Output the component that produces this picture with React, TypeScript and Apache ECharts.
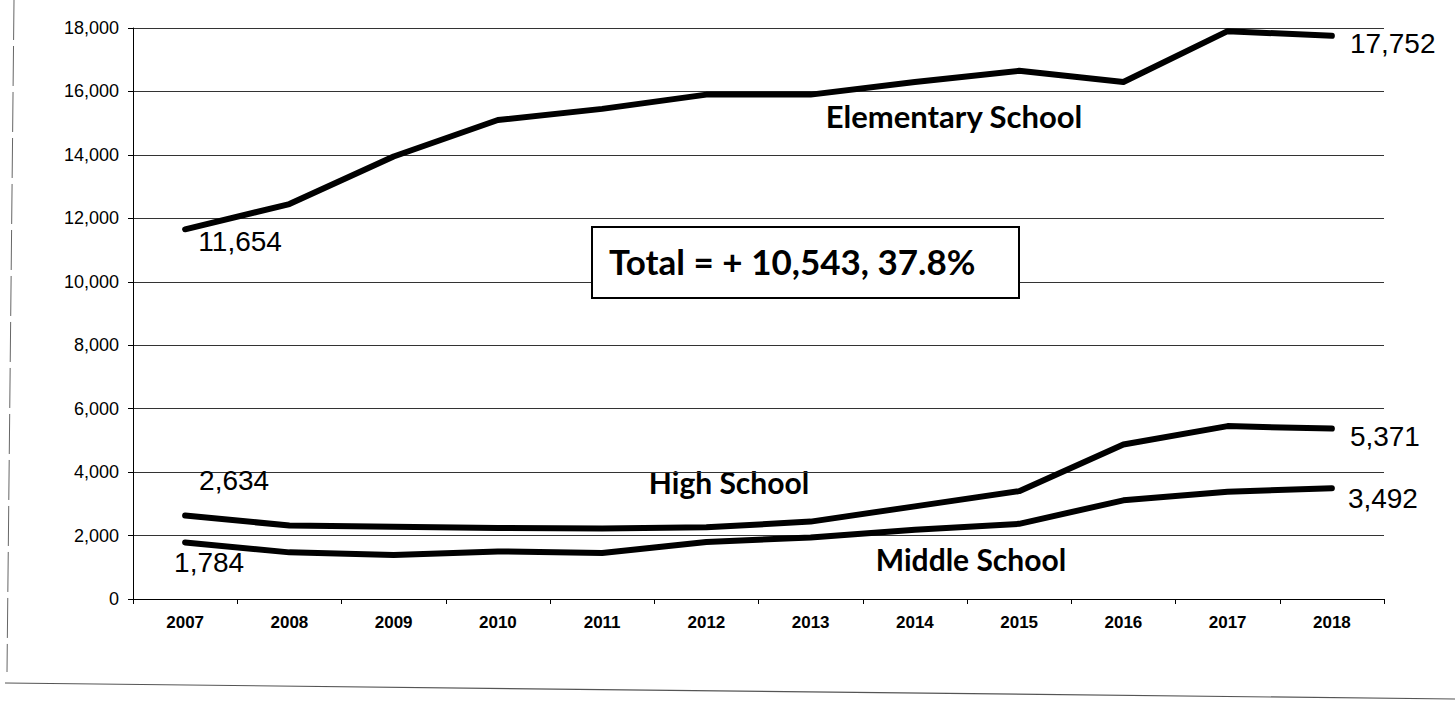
import React, { useEffect, useRef } from "react";
import * as echarts from "echarts";

const years = ["2007", "2008", "2009", "2010", "2011", "2012", "2013", "2014", "2015", "2016", "2017", "2018"];
const elementary = [11654, 12450, 13950, 15100, 15450, 15900, 15900, 16300, 16650, 16300, 17900, 17752];
const highSchool = [2634, 2315, 2280, 2240, 2220, 2260, 2440, 2920, 3400, 4870, 5450, 5371];
const middleSchool = [1784, 1470, 1390, 1500, 1450, 1800, 1940, 2180, 2370, 3110, 3380, 3492];
const yMin = 0;
const yMax = 18000;
const yInterval = 2000;
const seriesNames = ["Elementary School", "High School", "Middle School"];
const totalText = "Total = + 10,543, 37.8%";

const fmt = (v: number) => v.toLocaleString("en-US");

const numFont = { fontFamily: "Liberation Sans, Arial, sans-serif", fontSize: 28, color: "#000" };

function withEndLabels(values: number[], first: any, last: any) {
  return values.map((v, i) => {
    if (i === 0) return { value: v, label: { show: true, ...numFont, ...first, formatter: () => fmt(v) } };
    if (i === values.length - 1)
      return { value: v, label: { show: true, ...numFont, ...last, formatter: () => fmt(v) } };
    return v;
  });
}

export default function App() {
  const ref = useRef<HTMLDivElement>(null);
  useEffect(() => {
    if (!ref.current) return;
    const chart = echarts.init(ref.current, null, { renderer: "svg" });
    const lineStyle = { color: "#000", width: 6, cap: "round", join: "round" };
    const baseSeries = {
      type: "line",
      symbol: "circle",
      symbolSize: 2,
      showSymbol: true,
      itemStyle: { color: "#000" },
      lineStyle,
      label: { show: false },
      emphasis: { disabled: true },
      z: 5,
    };
    const labelFont = { fontFamily: "Lato, sans-serif", fontWeight: "bold", fill: "#000" };
    chart.setOption({
      animation: false,
      backgroundColor: "#fff",
      grid: { left: 133, right: 71, top: 28, bottom: 104, containLabel: false },
      xAxis: {
        type: "category",
        data: years,
        boundaryGap: true,
        axisLine: { lineStyle: { color: "#000", width: 1 } },
        axisTick: { show: true, alignWithLabel: false, length: 5, lineStyle: { color: "#000" } },
        axisLabel: {
          color: "#000",
          fontSize: 17,
          fontWeight: "bold",
          fontFamily: "Liberation Sans, Arial, sans-serif",
          margin: 15,
        },
      },
      yAxis: {
        type: "value",
        min: yMin,
        max: yMax,
        interval: yInterval,
        axisLine: { show: true, lineStyle: { color: "#000", width: 1 } },
        axisTick: { show: true, length: 5, lineStyle: { color: "#000" } },
        axisLabel: {
          color: "#000",
          fontSize: 18,
          fontFamily: "Liberation Sans, Arial, sans-serif",
          margin: 14,
          formatter: (v: number) => fmt(v),
        },
        splitLine: { show: true, lineStyle: { color: "#333", width: 1.2 } },
      },
      series: [
        {
          ...baseSeries,
          name: seriesNames[0],
          data: withEndLabels(
            elementary,
            { position: "bottom", offset: [55, -8] },
            { position: "right", offset: [12, 8] }
          ),
        },
        {
          ...baseSeries,
          name: seriesNames[1],
          data: withEndLabels(
            highSchool,
            { position: "top", offset: [49, -15] },
            { position: "right", offset: [12, 8] }
          ),
        },
        {
          ...baseSeries,
          name: seriesNames[2],
          data: withEndLabels(
            middleSchool,
            { position: "bottom", offset: [24, 0] },
            { position: "right", offset: [10, 10] }
          ),
        },
      ],
      graphic: [
        {
          type: "line",
          silent: true,
          shape: { x1: 14, y1: 0, x2: 7, y2: 672 },
          style: { stroke: "#666", lineWidth: 1, lineDash: [40, 6] },
        },
        {
          type: "line",
          silent: true,
          shape: { x1: 5, y1: 683, x2: 1455, y2: 699 },
          style: { stroke: "#555", lineWidth: 1.2 },
        },
        {
          type: "text",
          silent: true,
          x: 954,
          y: 131,
          style: { text: seriesNames[0], ...labelFont, fontSize: 31, textAlign: "center", textVerticalAlign: "bottom" },
        },
        {
          type: "text",
          silent: true,
          x: 729,
          y: 497,
          style: { text: seriesNames[1], ...labelFont, fontSize: 30, textAlign: "center", textVerticalAlign: "bottom" },
        },
        {
          type: "text",
          silent: true,
          x: 971,
          y: 574,
          style: { text: seriesNames[2], ...labelFont, fontSize: 30, textAlign: "center", textVerticalAlign: "bottom" },
        },
        {
          type: "rect",
          silent: true,
          z: 10,
          shape: { x: 592, y: 227, width: 427, height: 71 },
          style: { fill: "#fff", stroke: "#000", lineWidth: 2 },
        },
        {
          type: "text",
          silent: true,
          z: 11,
          x: 609,
          y: 261,
          style: { text: totalText, ...labelFont, fontSize: 35, textAlign: "left", textVerticalAlign: "middle" },
        },
      ],
    });
    return () => chart.dispose();
  }, []);
  return (
    <div
      ref={ref}
      style={{ position: "fixed", left: 0, top: 0, width: 1455, height: 703, background: "#fff" }}
    />
  );
}
